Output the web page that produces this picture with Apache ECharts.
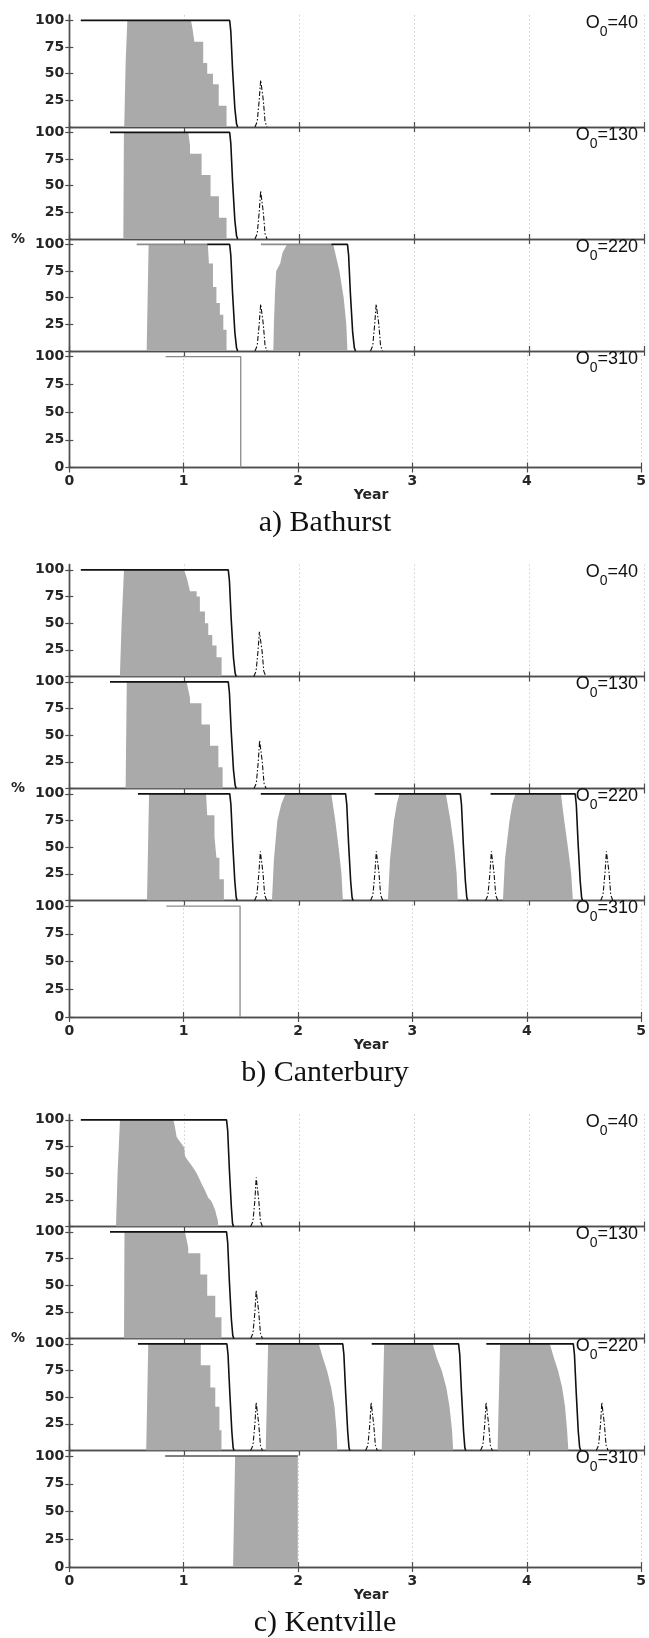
<!DOCTYPE html>
<html><head><meta charset="utf-8">
<style>html,body{margin:0;padding:0;background:#fff}#c{width:649px;height:1638px}</style>
<script src="https://cdn.jsdelivr.net/npm/echarts@6.0.0/dist/echarts.min.js"></script>
</head><body><div id="c"></div>
<script>
// ---------- labels ----------
const xTickValues = [0, 1, 2, 3, 4, 5];
const yTickValues = [0, 25, 50, 75, 100];
const stationTitles = ['a) Bathurst', 'b) Canterbury', 'c) Kentville'];
const o0Values = ['40', '130', '220', '310'];
const xAxisName = 'Year';
const yAxisName = '%';

// ---------- a) Bathurst ----------
const bat40Fill = [[0.478,0],[0.49,60],[0.505,100],[1.058,100],[1.072,92],[1.088,80],[1.165,80],[1.165,60],[1.2,60],[1.2,50],[1.25,50],[1.25,40],[1.3,40],[1.3,20],[1.368,20],[1.368,0]];
const bat40Grey = [];
const bat40Black = [[0.1,100],[1.395,100],[1.405,90],[1.42,55],[1.44,18],[1.455,3],[1.465,0]];
const bat40Dash = [[1.615,0],[1.635,5],[1.652,25],[1.665,44],[1.675,44],[1.688,25],[1.703,5],[1.72,0]];

const bat130Fill = [[0.47,0],[0.475,100],[1.035,100],[1.05,88],[1.05,80],[1.151,80],[1.151,60],[1.229,60],[1.229,40],[1.302,40],[1.302,20],[1.368,20],[1.368,0]];
const bat130Grey = [];
const bat130Black = [[0.354,100],[1.395,100],[1.405,90],[1.42,55],[1.44,18],[1.455,3],[1.465,0]];
const bat130Dash = [[1.615,0],[1.635,5],[1.652,25],[1.665,45],[1.675,45],[1.688,25],[1.703,5],[1.72,0]];

const bat220Fill = [[0.673,0],[0.69,100],[1.205,100],[1.215,82],[1.25,82],[1.25,60],[1.28,60],[1.28,45],[1.31,45],[1.31,34],[1.34,34],[1.34,20],[1.368,20],[1.368,0],
  [1.775,0],[1.78,25],[1.79,55],[1.8,75],[1.835,82],[1.855,92],[1.895,100],[2.296,100],[2.35,75],[2.387,50],[2.41,25],[2.42,0]];
const bat220Grey = [[0.586,100],[1.2,100],[1.4,'-'],[1.667,100],[2.28,100]];
const bat220Black = [[1.2,100],[1.395,100],[1.405,90],[1.42,55],[1.44,18],[1.455,3],[1.465,0],[1.6,'-'],
  [2.28,100],[2.42,100],[2.43,90],[2.445,55],[2.465,18],[2.48,3],[2.49,0]];
const bat220Dash = [[1.615,0],[1.635,5],[1.652,25],[1.665,44],[1.675,44],[1.688,25],[1.703,5],[1.72,0],[2.0,'-'],
  [2.62,0],[2.64,5],[2.657,25],[2.67,44],[2.68,44],[2.693,25],[2.708,5],[2.725,0]];

const bat310Fill = [];
const bat310Grey = [[0.842,100],[1.499,100],[1.499,0]];
const bat310Black = [];
const bat310Dash = [];

// ---------- b) Canterbury ----------
const can40Fill = [[0.44,0],[0.455,50],[0.476,100],[0.999,100],[1.026,91],[1.05,80],[1.108,80],[1.108,75],[1.136,75],[1.136,61],[1.18,61],[1.18,50],[1.209,50],[1.209,39],[1.244,39],[1.244,29],[1.281,29],[1.281,18],[1.325,18],[1.325,0]];
const can40Grey = [];
const can40Black = [[0.1,100],[1.383,100],[1.393,90],[1.408,55],[1.428,18],[1.443,3],[1.452,0]];
const can40Dash = [[1.605,0],[1.625,5],[1.642,24],[1.654,42],[1.664,42],[1.677,24],[1.692,5],[1.71,0]];

const can130Fill = [[0.49,0],[0.5,100],[1.02,100],[1.05,85],[1.05,80],[1.15,80],[1.15,60],[1.224,60],[1.224,40],[1.297,40],[1.297,20],[1.334,20],[1.334,0]];
const can130Grey = [];
const can130Black = [[0.354,100],[1.383,100],[1.393,90],[1.408,55],[1.428,18],[1.443,3],[1.452,0]];
const can130Dash = [[1.607,0],[1.627,5],[1.644,25],[1.656,45],[1.666,45],[1.679,25],[1.694,5],[1.712,0]];

const can220Fill = [[0.676,0],[0.694,100],[1.19,100],[1.2,80],[1.263,80],[1.263,60],[1.28,60],[1.28,40],[1.306,40],[1.306,20],[1.345,20],[1.345,0],
  [1.763,0],[1.78,38],[1.81,75],[1.846,91],[1.882,100],[2.279,100],[2.314,75],[2.343,50],[2.368,25],[2.38,0],
  [2.772,0],[2.79,38],[2.825,75],[2.85,91],[2.873,100],[3.276,100],[3.316,75],[3.348,50],[3.37,25],[3.38,0],
  [3.773,0],[3.79,38],[3.83,75],[3.855,91],[3.881,100],[4.277,100],[4.306,75],[4.338,50],[4.367,25],[4.381,0]];
const can220Grey = [];
const can220Black = [[0.597,100],[1.396,100],[1.406,90],[1.421,55],[1.44,18],[1.452,3],[1.46,0],[1.55,'-'],
  [1.666,100],[2.404,100],[2.414,90],[2.429,55],[2.448,18],[2.46,3],[2.468,0],[2.55,'-'],
  [2.657,100],[3.402,100],[3.412,90],[3.427,55],[3.446,18],[3.458,3],[3.466,0],[3.55,'-'],
  [3.665,100],[4.401,100],[4.411,90],[4.426,55],[4.445,18],[4.457,3],[4.465,0]];
const can220Dash = [[1.612,0],[1.632,5],[1.65,26],[1.662,46],[1.672,46],[1.685,26],[1.7,5],[1.718,0],[2.0,'-'],
  [2.621,0],[2.641,5],[2.659,26],[2.671,46],[2.681,46],[2.694,26],[2.709,5],[2.727,0],[3.0,'-'],
  [3.622,0],[3.642,5],[3.66,26],[3.672,46],[3.682,46],[3.695,26],[3.71,5],[3.728,0],[4.0,'-'],
  [4.623,0],[4.643,5],[4.661,26],[4.673,46],[4.683,46],[4.696,26],[4.711,5],[4.729,0]];

const can310Fill = [];
const can310Grey = [[0.849,100],[1.493,100],[1.493,0]];
const can310Black = [];
const can310Dash = [];

// ---------- c) Kentville ----------
const ken40Fill = [[0.406,0],[0.42,50],[0.441,100],[0.905,100],[0.918,94],[0.934,84],[0.96,80],[1.0,74],[1.006,66],[1.03,62],[1.06,58],[1.085,54],[1.108,50],[1.13,45],[1.151,40],[1.18,34],[1.209,27],[1.235,24],[1.252,20],[1.27,15],[1.281,10],[1.292,6],[1.296,0]];
const ken40Grey = [];
const ken40Black = [[0.1,100],[1.368,100],[1.378,90],[1.392,55],[1.41,18],[1.42,3],[1.428,0]];
const ken40Dash = [[1.578,0],[1.598,5],[1.615,25],[1.626,46],[1.636,46],[1.648,25],[1.663,5],[1.68,0]];

const ken130Fill = [[0.476,0],[0.48,100],[1.006,100],[1.035,85],[1.035,80],[1.14,80],[1.14,60],[1.2,60],[1.2,40],[1.27,40],[1.27,20],[1.324,20],[1.324,0]];
const ken130Grey = [];
const ken130Black = [[0.354,100],[1.368,100],[1.378,90],[1.392,55],[1.41,18],[1.422,3],[1.431,0]];
const ken130Dash = [[1.578,0],[1.598,5],[1.615,25],[1.626,45],[1.636,45],[1.648,25],[1.663,5],[1.68,0]];

const ken220Fill = [[0.669,0],[0.687,100],[1.144,100],[1.144,80],[1.227,80],[1.227,59],[1.27,59],[1.27,41],[1.306,41],[1.306,19],[1.324,19],[1.324,0],
  [1.709,0],[1.73,100],[2.17,100],[2.206,87],[2.242,75],[2.278,59],[2.307,41],[2.325,19],[2.332,0],
  [2.718,0],[2.739,100],[3.161,100],[3.197,87],[3.24,75],[3.28,59],[3.308,41],[3.33,19],[3.34,0],
  [3.726,0],[3.748,100],[4.18,100],[4.216,87],[4.252,75],[4.288,59],[4.313,41],[4.331,19],[4.342,0]];
const ken220Grey = [];
const ken220Black = [[0.597,100],[1.371,100],[1.381,90],[1.396,55],[1.414,18],[1.425,3],[1.432,0],[1.5,'-'],
  [1.623,100],[2.379,100],[2.389,90],[2.404,55],[2.422,18],[2.433,3],[2.44,0],[2.5,'-'],
  [2.631,100],[3.387,100],[3.397,90],[3.412,55],[3.43,18],[3.441,3],[3.448,0],[3.5,'-'],
  [3.628,100],[4.385,100],[4.395,90],[4.41,55],[4.428,18],[4.44,3],[4.45,0]];
const ken220Dash = [[1.578,0],[1.598,5],[1.615,25],[1.626,45],[1.636,45],[1.648,25],[1.663,5],[1.68,0],[2.0,'-'],
  [2.578,0],[2.598,5],[2.615,25],[2.626,45],[2.636,45],[2.648,25],[2.663,5],[2.68,0],[3.0,'-'],
  [3.578,0],[3.598,5],[3.615,25],[3.626,45],[3.636,45],[3.648,25],[3.663,5],[3.68,0],[4.0,'-'],
  [4.585,0],[4.605,5],[4.622,25],[4.633,45],[4.643,45],[4.655,25],[4.67,5],[4.687,0]];

const ken310Fill = [[1.432,0],[1.45,100],[1.998,100],[1.998,0]];
const ken310Grey = [];
const ken310Black = [[0.838,100],[1.998,100]];
const ken310Dash = [];

// ---------- assemble ----------
const stations = [
  [[bat40Fill,bat40Grey,bat40Black,bat40Dash],[bat130Fill,bat130Grey,bat130Black,bat130Dash],[bat220Fill,bat220Grey,bat220Black,bat220Dash],[bat310Fill,bat310Grey,bat310Black,bat310Dash]],
  [[can40Fill,can40Grey,can40Black,can40Dash],[can130Fill,can130Grey,can130Black,can130Dash],[can220Fill,can220Grey,can220Black,can220Dash],[can310Fill,can310Grey,can310Black,can310Dash]],
  [[ken40Fill,ken40Grey,ken40Black,ken40Dash],[ken130Fill,ken130Grey,ken130Black,ken130Dash],[ken220Fill,ken220Grey,ken220Black,ken220Dash],[ken310Fill,ken310Grey,ken310Black,ken310Dash]]
];

// layout
const groupTops = [15, 564.5, 1114.5];
const panelOffsets = [0, 112, 224, 336];
const panelHeights = [112, 112, 112, 116.5];
const plotLeft = 69.3, plotRightGap = 5, plotRightX = 644;
const axisColor = '#4d4d4d';
const tickFont = { fontFamily: 'DejaVu Sans', fontWeight: 'bold', fontSize: 14, color: '#262626' };

const grids = [], xAxes = [], yAxes = [], series = [], graphics = [];

stations.forEach((panels, g) => {
  panels.forEach((p, k) => {
    const idx = grids.length;
    const top = groupTops[g] + panelOffsets[k];
    const isBottom = k === 3;
    grids.push({ left: plotLeft, right: plotRightGap, top: top, height: panelHeights[k] });
    const axLine = { show: true, lineStyle: { color: axisColor, width: 1.4 } };
    const tick = { show: true, inside: true, length: 5, lineStyle: { color: axisColor, width: 1.2 } };
    const yTick = { show: true, inside: true, length: 4, lineStyle: { color: axisColor, width: 1.2 }, customValues: yTickValues };
    xAxes.push({
      type: 'value', gridIndex: idx, position: 'bottom', min: 0, max: 5, interval: 1,
      axisLine: axLine, axisTick: tick,
      axisLabel: { show: isBottom, margin: 7, ...tickFont,
        formatter: v => xTickValues.includes(v) ? String(v) : '' },
      splitLine: { show: true, lineStyle: { color: '#cfcfcf', type: [1.5, 2.5], width: 1 } }
    });
    xAxes.push({
      type: 'value', gridIndex: idx, position: 'top', min: 0, max: 5, interval: 1,
      axisLine: axLine, axisTick: tick, axisLabel: { show: false }, splitLine: { show: false }
    });
    yAxes.push({
      type: 'value', gridIndex: idx, position: 'left', min: 0, max: 105, interval: 25,
      axisLine: axLine, axisTick: yTick,
      axisLabel: { show: true, margin: 5, ...tickFont,
        formatter: v => (yTickValues.includes(v) && (v > 0 || isBottom)) ? String(v) : '' },
      splitLine: { show: false }
    });
    yAxes.push({
      type: 'value', gridIndex: idx, position: 'right', min: 0, max: 105, interval: 25,
      axisLine: axLine, axisTick: yTick, axisLabel: { show: false }, splitLine: { show: false }
    });
    const base = { type: 'line', xAxisIndex: 2 * idx, yAxisIndex: 2 * idx, symbol: 'none', silent: true, connectNulls: false, animation: false };
    series.push({ ...base, data: p[0], z: 1, lineStyle: { width: 0, opacity: 0 },
      areaStyle: { color: '#aaaaaa', opacity: 1 } });
    series.push({ ...base, data: p[1], z: 2,
      lineStyle: { color: isBottom ? '#8a8a8a' : '#8c8c8c', width: isBottom ? 1.3 : 1.6 } });
    series.push({ ...base, data: p[2], z: 3,
      lineStyle: { color: isBottom ? '#555555' : '#111111', width: 1.6 } });
    series.push({ ...base, data: p[3], z: 4,
      lineStyle: { color: '#111111', width: 1.1, type: [5, 2, 1.5, 2] } });

    graphics.push({
      type: 'text', x: plotRightX - 6, y: top + 2, z: 100,
      style: {
        text: '{o|O}{s|0}{o|=' + o0Values[k] + '}',
        align: 'right', verticalAlign: 'top',
        rich: {
          o: { fontFamily: 'Liberation Sans', fontSize: 18, lineHeight: 20, padding: [0, 0, 8, 0], fill: '#111' },
          s: { fontFamily: 'Liberation Sans', fontSize: 14, lineHeight: 14, padding: [12, 0, 2, 0], fill: '#111' }
        }
      }
    });
  });
  const gTop = groupTops[g];
  const gBottom = gTop + panelOffsets[3] + panelHeights[3];
  graphics.push({ type: 'text', x: 18, y: gTop + panelOffsets[2], z: 100,
    style: { text: yAxisName, align: 'center', verticalAlign: 'middle', font: 'bold 14px "DejaVu Sans"', fill: '#262626' } });
  graphics.push({ type: 'text', x: 371, y: gBottom + 28, z: 100,
    style: { text: xAxisName, align: 'center', verticalAlign: 'middle', font: 'bold 14px "DejaVu Sans"', fill: '#262626' } });
  graphics.push({ type: 'text', x: 325, y: gBottom + 56, z: 100,
    style: { text: stationTitles[g], align: 'center', verticalAlign: 'middle', font: '30px "Liberation Serif"', fill: '#111' } });
});

const chart = echarts.init(document.getElementById('c'), null, { renderer: 'canvas' });
chart.setOption({
  animation: false,
  backgroundColor: '#ffffff',
  grid: grids, xAxis: xAxes, yAxis: yAxes, series: series, graphic: graphics
});
</script>
</body></html>
